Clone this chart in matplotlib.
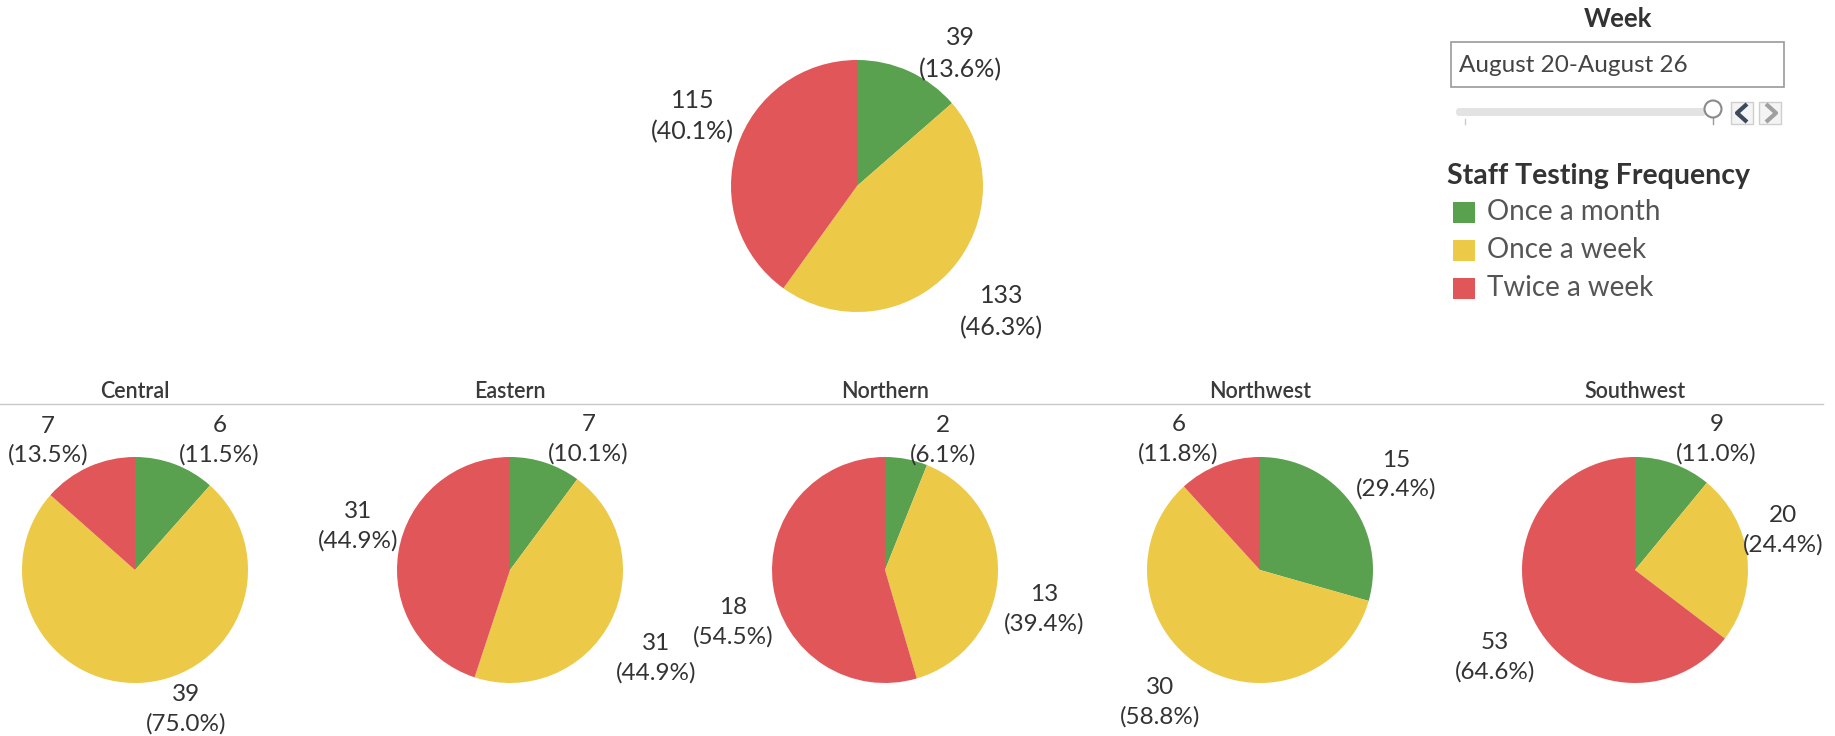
"""
Staff testing frequency pies: statewide total plus one pie per region,
with a Tableau-like week filter and colour legend on the right.
"""
import matplotlib
matplotlib.use("Agg")
import matplotlib.pyplot as plt
from matplotlib.patches import Rectangle, Circle, FancyBboxPatch
import numpy as np

# ---- data -------------------------------------------------------------
categories = ["Once a month", "Once a week", "Twice a week"]
colors = ["#59A14F", "#EDC948", "#E15759"]

total_counts = [39, 133, 115]

regions = ["Central", "Eastern", "Northern", "Northwest", "Southwest"]
central = [6, 39, 7]
eastern = [7, 31, 31]
northern = [2, 13, 18]
northwest = [15, 30, 6]
southwest = [9, 20, 53]
region_counts = [central, eastern, northern, northwest, southwest]

week_label = "August 20-August 26"

# ---- layout (pixels, y down) -------------------------------------------
W, H = 1835, 736
TOP_CENTER, TOP_R = (857, 186), 126
SMALL_Y, SMALL_R = 570, 113
SMALL_X0, SMALL_DX = 135, 375

# label spots: (angle clockwise from 12 o'clock, distance in radii)
TOP_SPOTS = [(38, 1.33), (131, 1.52), (293, 1.42)]
REGION_SPOTS = [
    [(33, 1.37), (160, 1.31), (326, 1.38)],
    [(31, 1.35), (121, 1.51), (286, 1.40)],
    [(24, 1.26), (104, 1.45), (251, 1.42)],
    [(55, 1.47), (217, 1.47), (328, 1.36)],
    [(32, 1.36), (75, 1.36), (238, 1.46)],
]

FONT = ["Lato", "DejaVu Sans"]
plt.rcParams["font.family"] = FONT

fig = plt.figure(figsize=(W / 100, H / 100), dpi=100)
ax = fig.add_axes([0, 0, 1, 1])


def draw_pie(values, center, radius, spots, fontsize=17.5):
    # y axis is inverted, so counterclock=True runs clockwise on screen
    ax.pie(values, colors=colors, center=center, radius=radius,
           startangle=-90, counterclock=True,
           wedgeprops=dict(linewidth=0, antialiased=True))
    total = sum(values)
    for v, (ang, dist) in zip(values, spots):
        a = np.radians(ang)
        x = center[0] + dist * radius * np.sin(a)
        y = center[1] - dist * radius * np.cos(a)
        ax.text(x, y, f"{v}\n({v / total * 100:.1f}%)", ha="center",
                va="center", multialignment="center", fontsize=fontsize,
                color="#333333", linespacing=1.45)


draw_pie(total_counts, TOP_CENTER, TOP_R, TOP_SPOTS, fontsize=18)

for i, (name, vals) in enumerate(zip(regions, region_counts)):
    cx = SMALL_X0 + SMALL_DX * i
    draw_pie(vals, (cx, SMALL_Y), SMALL_R, REGION_SPOTS[i])
    ax.text(cx, 391, name, ha="center", va="center", fontsize=15.5,
            fontweight="semibold", color="#3a3a3a")

# divider under the region headers
ax.plot([0, 1823], [404, 404], color="#c8c8c8", linewidth=1)

# ---- week filter ---------------------------------------------------------
ax.text(1618, 19, "Week", ha="center", va="center", fontsize=18.5,
        fontweight="bold", color="#333333")
ax.add_patch(Rectangle((1451, 42), 333, 45, facecolor="white",
                       edgecolor="#9a9a9a", linewidth=1.2))
ax.text(1459, 65, week_label, ha="left", va="center", fontsize=17.5,
        color="#444444")
ax.add_patch(FancyBboxPatch((1456, 108), 250, 8,
                            boxstyle="round,pad=0,rounding_size=4",
                            facecolor="#e3e3e3", edgecolor="none"))
ax.plot([1465, 1465], [119, 124], color="#cccccc", linewidth=1)
ax.plot([1713, 1713], [117, 124], color="#999999", linewidth=1)
ax.add_patch(Circle((1713, 109), 8.5, facecolor="white", edgecolor="#8a8a8a",
                    linewidth=1.5, zorder=3))
for bx, shade, pts in [(1731, "#3d4a5c", [(1747, 104), (1737, 113), (1747, 122)]),
                       (1759, "#a0a0a0", [(1766, 104), (1776, 113), (1766, 122)])]:
    ax.add_patch(Rectangle((bx, 102), 22, 22, facecolor="#f4f4f4",
                           edgecolor="#cfcfcf", linewidth=1))
    xs, ys = zip(*pts)
    ax.plot(xs, ys, color=shade, linewidth=3, solid_capstyle="butt")

# ---- colour legend -------------------------------------------------------
ax.text(1447, 176, "Staff Testing Frequency", ha="left", va="center",
        fontsize=20.5, fontweight="bold", color="#333333")
for k, (cat, col) in enumerate(zip(categories, colors)):
    y = 212 + 38 * k
    ax.add_patch(Rectangle((1453, y - 10), 22, 21, facecolor=col,
                           edgecolor="none"))
    ax.text(1487, y, cat, ha="left", va="center", fontsize=20,
            color="#555555")

ax.set_xlim(0, W)
ax.set_ylim(H, 0)
ax.set_aspect("auto")
ax.axis("off")

fig.savefig("out.png", dpi=100)
